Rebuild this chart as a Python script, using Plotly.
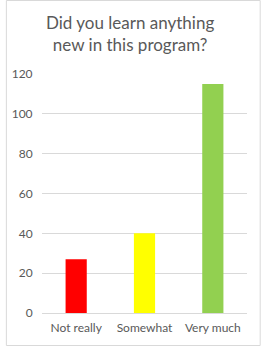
import plotly.graph_objects as go

categories = ["Not really", "Somewhat", "Very much"]
values = [27, 40, 115]
colors = ["#FF0000", "#FFFF00", "#92D050"]
y_ticks = [0, 20, 40, 60, 80, 100, 120]
title_text = "Did you learn anything<br>new in this program?"

W, H = 262, 347
L, R, T, B = 37, 15, 74, 34
pw, ph = W - L - R, H - T - B

def px(x):
    return (x - L) / pw

def py(y):
    return (H - B - y) / ph

fig = go.Figure(go.Bar(
    x=categories, y=values, marker=dict(color=colors, line=dict(width=0)),
    width=0.31,
))

fig.update_layout(
    width=W, height=H,
    margin=dict(l=L, r=R, t=T, b=B, pad=0),
    paper_bgcolor="white", plot_bgcolor="white",
    showlegend=False,
    font=dict(family="Lato", color="#595959", size=12),
    annotations=[dict(
        text=title_text, xref="paper", yref="paper",
        x=px(127), y=py(10), xanchor="center", yanchor="top",
        showarrow=False, align="center",
        font=dict(family="Lato", size=17, color="#595959"),
    )],
    shapes=[dict(
        type="rect", xref="paper", yref="paper",
        x0=px(0.5), x1=px(260.5), y0=py(345.5), y1=py(0.5),
        line=dict(color="#D9D9D9", width=1), fillcolor="rgba(0,0,0,0)",
        layer="below",
    )],
)

fig.update_xaxes(
    showgrid=False, showline=False, zeroline=False,
    ticks="outside", ticklen=4, tickcolor="rgba(0,0,0,0)",
    tickfont=dict(size=12, color="#595959"),
)
fig.update_yaxes(
    range=[0, 120], tickvals=y_ticks, showgrid=True, gridcolor="#D9D9D9",
    gridwidth=1, zeroline=True, zerolinecolor="#D9D9D9", zerolinewidth=1,
    showline=False, ticks="outside", ticklen=6, tickcolor="rgba(0,0,0,0)",
    tickfont=dict(size=12, color="#595959"),
)

fig.write_html("out.html")
